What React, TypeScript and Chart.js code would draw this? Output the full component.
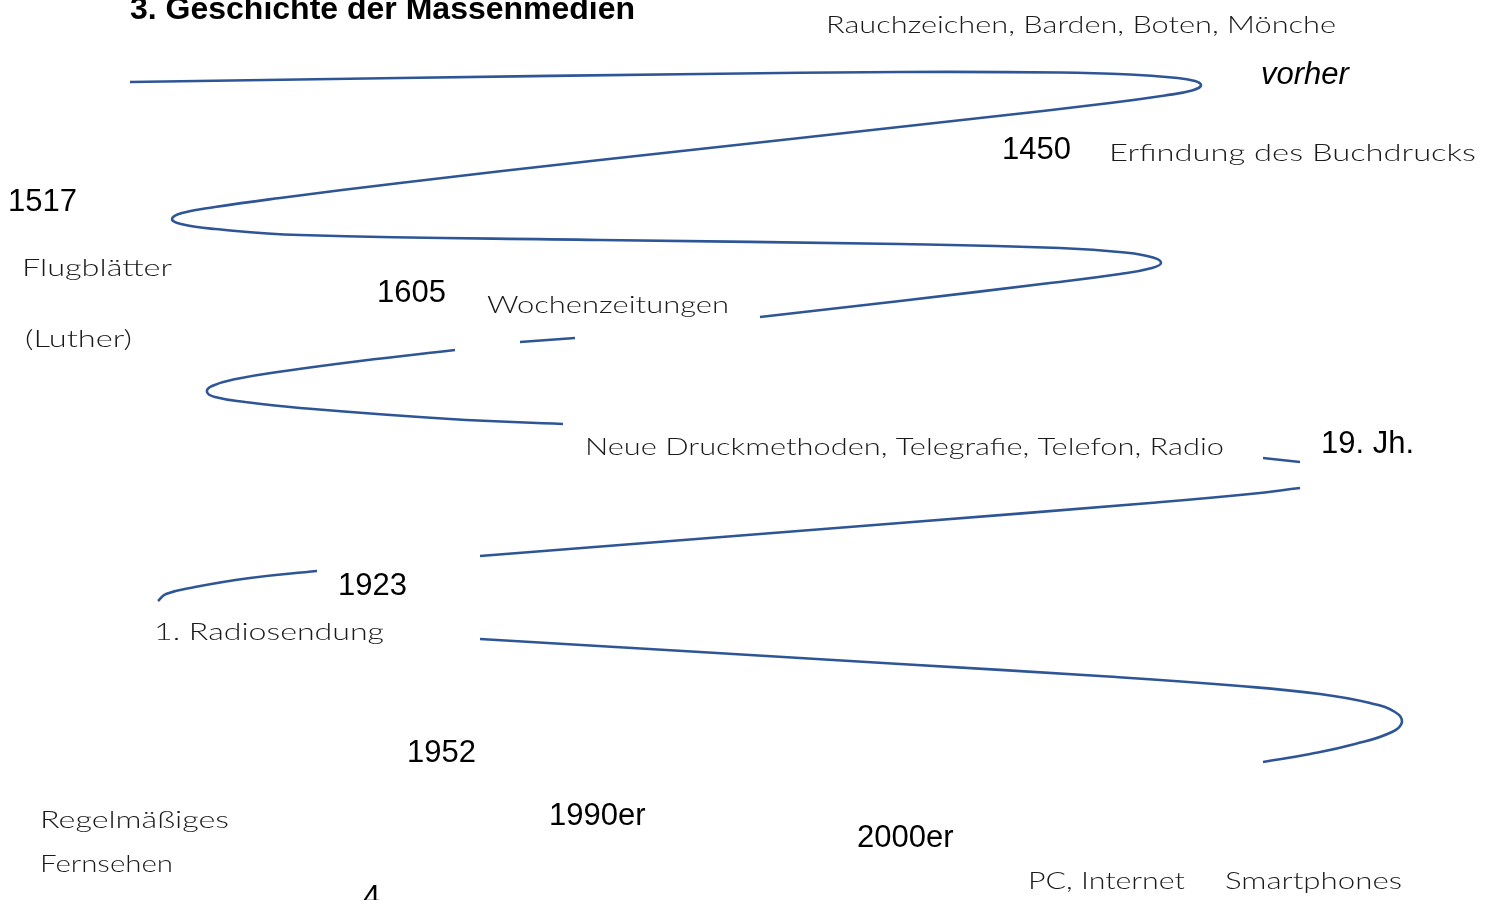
import React, { useEffect, useRef } from "react";
import { Chart, registerables } from "chart.js";

Chart.register(...registerables);

// Curve segments of the timeline "snake" (page coordinates, y downward)
const curveTop = [
  { x: 130, y: 82 }, { x: 400, y: 78 }, { x: 700, y: 74 }, { x: 900, y: 72 },
  { x: 1060, y: 72.5 }, { x: 1130, y: 74.5 }, { x: 1172, y: 77.5 }, { x: 1195, y: 81 },
  { x: 1201, y: 85.5 }, { x: 1192, y: 90.5 }, { x: 1165, y: 95.5 }, { x: 1110, y: 103 },
  { x: 980, y: 118 }, { x: 800, y: 138 }, { x: 600, y: 160 }, { x: 400, y: 183 },
  { x: 280, y: 198 }, { x: 215, y: 207 }, { x: 182, y: 213 }, { x: 172, y: 219 },
  { x: 181, y: 224 }, { x: 215, y: 229 }, { x: 300, y: 235 }, { x: 600, y: 240 },
  { x: 900, y: 244 }, { x: 1060, y: 248 }, { x: 1125, y: 252.5 }, { x: 1153, y: 257.5 },
  { x: 1161, y: 263 }, { x: 1152, y: 268 }, { x: 1120, y: 274 }, { x: 1050, y: 283 },
  { x: 900, y: 301 }, { x: 760, y: 317 },
];
const curveShort1 = [{ x: 575, y: 338 }, { x: 520, y: 342 }];
const curveSecond = [
  { x: 455, y: 350 }, { x: 360, y: 361 }, { x: 285, y: 371 }, { x: 236, y: 379 },
  { x: 212, y: 386 }, { x: 207, y: 392 }, { x: 215, y: 397 }, { x: 245, y: 402 },
  { x: 300, y: 408 }, { x: 450, y: 419 }, { x: 563, y: 424 },
];
const curveShort2 = [{ x: 1263, y: 458 }, { x: 1300, y: 462 }];
const curveThird = [
  { x: 1300, y: 488 }, { x: 1250, y: 494 }, { x: 1150, y: 503 }, { x: 900, y: 523 },
  { x: 480, y: 556 },
];
const curveHook = [
  { x: 317, y: 571 }, { x: 250, y: 578 }, { x: 195, y: 587 }, { x: 166, y: 594 },
  { x: 158, y: 601 },
];
const curveLast = [
  { x: 480, y: 639 }, { x: 700, y: 652 }, { x: 900, y: 664 }, { x: 1100, y: 676 },
  { x: 1240, y: 686 }, { x: 1320, y: 694 }, { x: 1370, y: 703 }, { x: 1395, y: 712 },
  { x: 1402, y: 722 }, { x: 1392, y: 732 }, { x: 1355, y: 744 }, { x: 1310, y: 754 },
  { x: 1263, y: 762 },
];

// Year / heading labels: [text, left x, baseline y]
const titleLabel: [string, number, number] = ["3. Geschichte der Massenmedien", 130, 19];
const yearLabels: [string, number, number][] = [
  ["1450", 1002, 159],
  ["1517", 8, 211],
  ["1605", 377, 302],
  ["19. Jh.", 1321, 453],
  ["1923", 338, 595],
  ["1952", 407, 762],
  ["1990er", 549, 825],
  ["2000er", 857, 847],
  ["4", 363, 907],
];
const italicLabels: [string, number, number][] = [["vorher", 1261, 84]];

// Hand-written notes: [text, left x, right x, baseline y]
const noteLabels: [string, number, number, number][] = [
  ["Rauchzeichen, Barden, Boten, Mönche", 826, 1336, 33],
  ["Erfindung des Buchdrucks", 1109, 1476, 161],
  ["Flugblätter", 22, 172, 276],
  ["(Luther)", 25, 132, 347],
  ["Wochenzeitungen", 487, 729, 313],
  ["Neue Druckmethoden, Telegrafie, Telefon, Radio", 585, 1224, 455],
  ["1. Radiosendung", 154, 384, 640],
  ["Regelmäßiges", 40, 229, 828],
  ["Fernsehen", 40, 173, 872],
  ["PC, Internet", 1028, 1185, 889],
  ["Smartphones", 1225, 1402, 889],
];

const segments = [curveTop, curveShort1, curveSecond, curveShort2, curveThird, curveHook, curveLast];

const labelPlugin = {
  id: "labels",
  afterDatasetsDraw(chart: any) {
    const { ctx, scales } = chart;
    const xs = scales.x;
    const ys = scales.y;
    ctx.save();
    ctx.textBaseline = "alphabetic";
    ctx.textAlign = "left";
    ctx.fillStyle = "#000";
    ctx.font = 'bold 32px "Liberation Sans", Arial, sans-serif';
    ctx.fillText(titleLabel[0], xs.getPixelForValue(titleLabel[1]), ys.getPixelForValue(titleLabel[2]));
    ctx.font = '31px "Liberation Sans", Arial, sans-serif';
    for (const [t, x, y] of yearLabels) {
      ctx.fillText(t, xs.getPixelForValue(x), ys.getPixelForValue(y));
    }
    ctx.font = 'italic 31px "Liberation Sans", Arial, sans-serif';
    for (const [t, x, y] of italicLabels) {
      ctx.fillText(t, xs.getPixelForValue(x), ys.getPixelForValue(y));
    }
    ctx.font = '300 23px Lato, "Open Sans", sans-serif';
    ctx.fillStyle = "#1a1a1a";
    for (const [t, x0, x1, y] of noteLabels) {
      const px0 = xs.getPixelForValue(x0);
      const px1 = xs.getPixelForValue(x1);
      const w = ctx.measureText(t).width;
      const sx = (px1 - px0) / w;
      ctx.save();
      ctx.translate(px0, ys.getPixelForValue(y));
      ctx.scale(sx, 1);
      ctx.fillText(t, 0, 0);
      ctx.restore();
    }
    ctx.restore();
  },
};

export default function App() {
  const ref = useRef<HTMLCanvasElement | null>(null);
  useEffect(() => {
    if (!ref.current) return;
    const chart = new Chart(ref.current, {
      type: "scatter",
      data: {
        datasets: segments.map((seg) => ({
          data: seg,
          showLine: true,
          borderColor: "#2E5596",
          borderWidth: 2.6,
          pointRadius: 0,
          tension: 0.45,
          fill: false,
        })),
      },
      options: {
        responsive: false,
        maintainAspectRatio: false,
        animation: false,
        layout: { padding: 0 },
        plugins: { legend: { display: false }, tooltip: { enabled: false } },
        scales: {
          x: { type: "linear", min: 0, max: 1495, display: false },
          y: { type: "linear", min: 0, max: 900, reverse: true, display: false },
        },
      },
      plugins: [labelPlugin],
    });
    return () => chart.destroy();
  }, []);
  return (
    <div style={{ position: "fixed", left: 0, top: 0, width: 1495, height: 900, background: "#fff" }}>
      <canvas ref={ref} width={1495} height={900} style={{ width: 1495, height: 900 }} />
    </div>
  );
}
